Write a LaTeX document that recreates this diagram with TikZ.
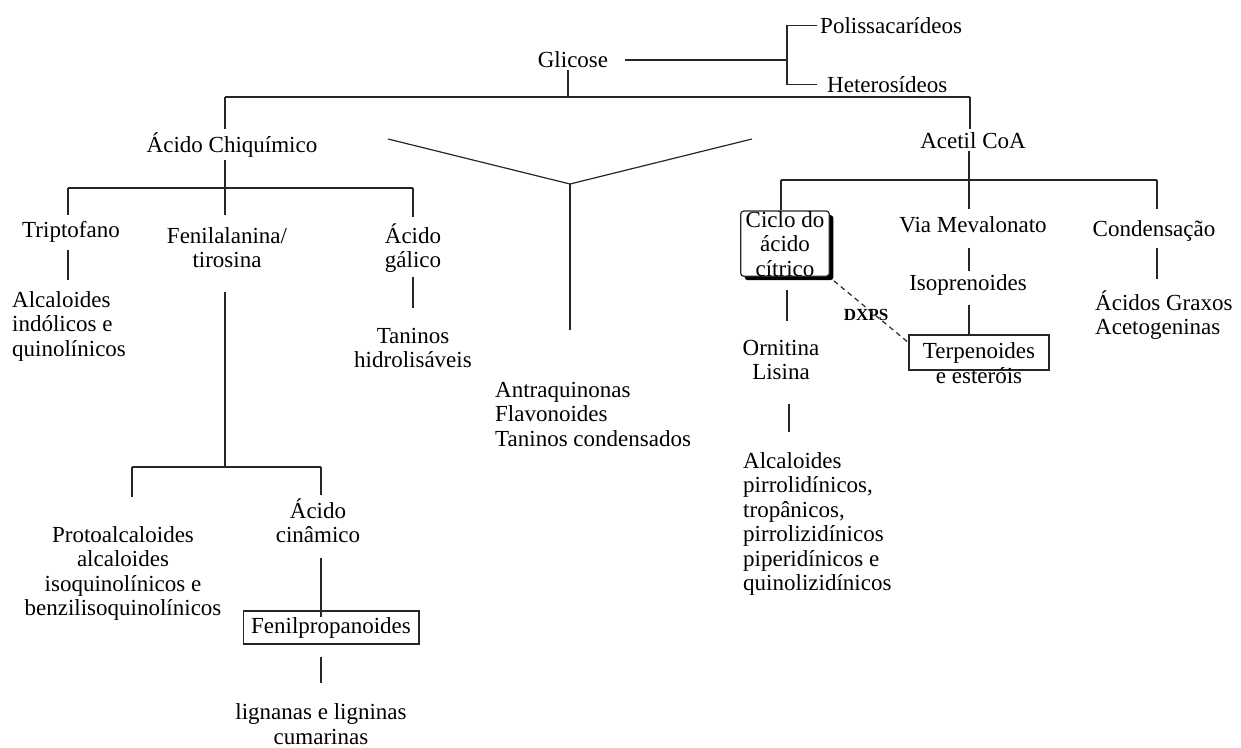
\documentclass[tikz,border=0pt]{standalone}
\usepackage{fontspec}
\setmainfont{Liberation Serif}
\usetikzlibrary{shadows}
\begin{document}
\begin{tikzpicture}[x=1pt,y=-1pt,
  every node/.style={font=\fontsize{23}{24.5}\selectfont, inner sep=3pt, text=black},
  txt/.style={anchor=base, align=center},
  txtl/.style={anchor=base west, align=left},
  ln/.style={line width=1.2pt, draw=black!85},
  boxed/.style={draw=black!85, line width=1.3pt}
]
\useasboundingbox (0,0) rectangle (1241,747);

% ---- nodes (multi-line nodes: base = last line) ----
\node[txt] (glicose) at (573,67) {Glicose};
\node[txtl] (polis) at (817,33) {Polissacarídeos};
\node[txtl] (hetero) at (824,92) {Heterosídeos};
\node[txt] (chiq) at (232,152) {Ácido Chiquímico};
\node[txt] (acetil) at (973,148) {Acetil CoA};
\node[txt] (trip) at (71,237) {Triptofano};
\node[txt] (fen) at (227,267.5) {Fenilalanina/\\tirosina};
\node[txt] (gal) at (413,267.5) {Ácido\\gálico};
\node[txtl] (alcind) at (9,356) {Alcaloides\\indólicos e\\quinolínicos};
\node[txt] (tanh) at (413,367.5) {Taninos\\hidrolisáveis};
\node[txt] (proto) at (123,615.5) {Protoalcaloides\\alcaloides\\isoquinolínicos e\\benzilisoquinolínicos};
\node[txt] (cin) at (318,542.5) {Ácido\\cinâmico};
\node[txt, boxed, inner xsep=8pt, inner ysep=6pt] (fenprop) at (331,633) {Fenilpropanoides};
\node[txt] (lign) at (321,744) {lignanas e ligninas\\cumarinas};
\node[txtl] (antra) at (492,446) {Antraquinonas\\Flavonoides\\Taninos condensados};
\node[txt, draw=black!85, line width=1.2pt, rounded corners=3pt, inner xsep=5pt, inner ysep=0pt,
      fill=white, drop shadow={shadow xshift=4pt, shadow yshift=-4pt, opacity=1, fill=black}] (ciclo) at (785,276) {Ciclo do\\ácido\\cítrico};
\node[txt] (ornit) at (781,379.5) {Ornitina\\Lisina};
\node[txtl] (alcpir) at (740,590.5) {Alcaloides\\pirrolidínicos,\\tropânicos,\\pirrolizidínicos\\piperidínicos e\\quinolizidínicos};
\node[txt] (via) at (973,232) {Via Mevalonato};
\node[txt] (iso) at (968,290) {Isoprenoides};
\node[txt, boxed, inner xsep=14pt, inner ysep=7pt] (terp) at (979,358) {Terpenoides};
\node[txt] (ester) at (979,383) {e esteróis};
\node[txt] (cond) at (1154,236) {Condensação};
\node[txtl] (acgr) at (1092,334.5) {Ácidos Graxos\\Acetogeninas};
\node[anchor=base, inner sep=1pt, font=\fontsize{17}{20}\selectfont\bfseries] (dxps) at (866,320) {DXPS};

% ---- junction coordinates ----
\coordinate (gj) at (787,60);
\coordinate (barL) at (225,97);
\coordinate (barR) at (970,97);
\coordinate (cb) at (225,188);
\coordinate (cbL) at (68,188);
\coordinate (cbR) at (413,188);
\coordinate (fb) at (225,467);
\coordinate (fbL) at (132,467);
\coordinate (fbR) at (321,467);
\coordinate (yl) at (388,139);
\coordinate (yc) at (570,184);
\coordinate (yr) at (752,139);
\coordinate (yb) at (570,330);
\coordinate (ab) at (969,180);
\coordinate (abL) at (781,180);
\coordinate (abR) at (1157,180);

% ---- connectors ----
\draw[ln, shorten <=14pt] (glicose.east |- gj) -- (gj);
\draw[ln] (polis.west) -| (gj) |- ([xshift=-7pt]hetero.west);

\draw[ln] (barL) -- (barR);
\draw[ln] (glicose.south -| 568,0) -- (barL -| 568,0);
\draw[ln] (barL) -- (barL |- chiq.north);
\draw[ln] (barR) -- (barR |- acetil.north);

% Acido chiquimico branch
\draw[ln] (chiq.south -| cb) -- (cb);
\draw[ln] (cbL) -- (cbR);
\draw[ln, shorten >=3pt] (cbL) -- (cbL |- trip.north);
\draw[ln, shorten >=3.5pt] (cbR) -- (cbR |- gal.north);
\draw[ln, shorten >=9pt] (cb) -- (cb |- fen.north);
\draw[ln, shorten <=5pt, shorten >=8pt] (trip.south -| cbL) -- (cbL |- alcind.north);
\draw[ln, shorten <=1pt, shorten >=17pt] (gal.south) -- (tanh.north);
\draw[ln, shorten <=21pt] (fen.south -| fb) -- (fb);
\draw[ln] (fbL) -- (fbR);
\draw[ln, shorten >=26pt] (fbL) -- (fbL |- proto.north);
\draw[ln] (fbR) -- (fbR |- cin.north);
\draw[ln, shorten <=12pt, shorten >=-7pt] (cin.south -| fbR) -- (fbR |- fenprop.north);
\draw[ln, shorten <=12pt, shorten >=17pt] (fenprop.south -| fbR) -- (fbR |- lign.north);

% Y shape
\draw[ln] (yl) -- (yc) -- (yr);
\draw[ln] (yc) -- (yb);

% Acetil CoA branch
\draw[ln] (acetil.south -| ab) -- (ab);
\draw[ln] (abL) -- (abR);
\draw[ln] (abL) -- (abL |- ciclo.north);
\draw[ln, shorten >=4pt] (ab) -- (ab |- via.north);
\draw[ln, shorten >=8pt] (abR) -- (abR |- cond.north);
\draw[ln, shorten <=12pt] (via.south -| ab) -- (ab |- iso.north);
\draw[ln, shorten <=7pt] (iso.south -| ab) -- (ab |- terp.north);
\draw[ln, shorten <=4pt, shorten >=8pt] (cond.south -| abR) -- (abR |- acgr.north);
\draw[ln, shorten <=13pt, shorten >=16pt] ([xshift=2pt]ciclo.south) -- ([xshift=2pt]ciclo.south |- ornit.north);
\draw[ln, shorten <=21pt, shorten >=17pt] ([xshift=8pt]ornit.south) -- ([xshift=8pt]ornit.south |- alcpir.north);
\draw[ln, dash pattern=on 5pt off 4pt] ([shift={(4pt,-4pt)}]ciclo.south east) -- ([yshift=10pt]terp.west);
\end{tikzpicture}
\end{document}
